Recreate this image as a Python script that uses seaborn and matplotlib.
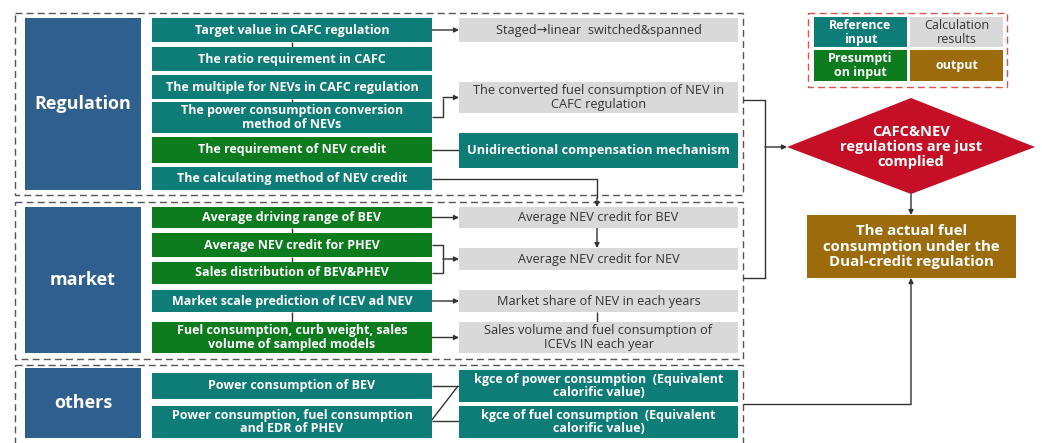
import matplotlib
matplotlib.use("Agg")
import matplotlib.pyplot as plt
from matplotlib.patches import Rectangle, Polygon
import seaborn as sns

# ---- chart content ----
group_names = ["Regulation", "market", "others"]

reg_inputs = ["Target value in CAFC regulation",
              "The ratio requirement in CAFC",
              "The multiple for NEVs in CAFC regulation",
              "The power consumption conversion\nmethod of NEVs",
              "The requirement of NEV credit",
              "The calculating method of NEV credit"]
reg_kinds = ["ref", "ref", "ref", "ref", "pre", "ref"]
reg_results = ["Staged\u2192linear  switched&spanned",
               "The converted fuel consumption of NEV in\nCAFC regulation",
               "Unidirectional compensation mechanism"]
reg_result_kinds = ["calc", "calc", "ref"]

mkt_inputs = ["Average driving range of BEV",
              "Average NEV credit for PHEV",
              "Sales distribution of BEV&PHEV",
              "Market scale prediction of ICEV ad NEV",
              "Fuel consumption, curb weight, sales\nvolume of sampled models"]
mkt_kinds = ["pre", "pre", "pre", "ref", "pre"]
mkt_results = ["Average NEV credit for BEV",
               "Average NEV credit for NEV",
               "Market share of NEV in each years",
               "Sales volume and fuel consumption of\nICEVs IN each year"]

oth_inputs = ["Power consumption of BEV",
              "Power consumption, fuel consumption\nand EDR of PHEV"]
oth_results = ["kgce of power consumption  (Equivalent\ncalorific value)",
               "kgce of fuel consumption  (Equivalent\ncalorific value)"]

decision_text = "CAFC&NEV\nregulations are just\ncomplied"
output_text = "The actual fuel\nconsumption under the\nDual-credit regulation"

legend_labels = ["Reference\ninput", "Calculation\nresults", "Presumpti\non input", "output"]
legend_kinds = ["ref", "calc", "pre", "out"]

# ---- layout (pixel coordinates, y downward) ----
reg_in_y = [(18, 42), (47, 71), (75, 99), (102, 133), (137, 163), (167, 190)]
reg_res_y = [(18, 42), (82, 113), (133, 168)]
mkt_in_y = [(207, 228), (233, 257), (262, 284), (290, 312), (322, 353)]
mkt_res_y = [(207, 228), (248, 270), (290, 312), (322, 353)]
oth_in_y = [(373, 399), (406, 438)]
oth_res_y = [(370, 402), (406, 438)]
group_y = [(18, 190), (207, 353), (368, 438)]
frame_y = [(13, 195), (202, 359), (365, 450)]
IN_X = (152, 432)
RES_X = (459, 738)
GRP_X = (25, 141)

colors = {"ref": "#0E7D78", "pre": "#0C7C1E", "calc": "#D9D9D9",
          "out": "#9C6B0C", "group": "#2F5F8F", "diamond": "#C50F26"}
text_colors = {"ref": "white", "pre": "white", "calc": "#333333",
               "out": "white", "group": "white"}

sns.set_theme(style="white")
plt.rcParams["font.family"] = ["Open Sans", "DejaVu Sans"]

fig = plt.figure(figsize=(10.42, 4.43), dpi=100)
ax = fig.add_axes([0, 0, 1, 1])
ax.set_xlim(0, 1042)
ax.set_ylim(443, 0)
ax.axis("off")

LINE = "#333333"


def box(x, y, kind, text, size=9.0):
    ax.add_patch(Rectangle((x[0], y[0]), x[1] - x[0], y[1] - y[0],
                           facecolor=colors[kind], edgecolor="none", zorder=2))
    weight = "normal" if kind == "calc" else "bold"
    ax.text((x[0] + x[1]) / 2, (y[0] + y[1]) / 2, text, ha="center", va="center",
            color=text_colors[kind], fontsize=size, fontweight=weight,
            linespacing=1.1, zorder=3)


def mid(y):
    return (y[0] + y[1]) / 2


def line(xs, ys):
    ax.plot(xs, ys, color=LINE, lw=1.0, zorder=1, solid_capstyle="butt")


def arrow(x0, y0, x1, y1):
    ax.annotate("", xy=(x1, y1), xytext=(x0, y0),
                arrowprops=dict(arrowstyle="-|>", color=LINE, lw=1.0,
                                mutation_scale=7, shrinkA=0, shrinkB=0),
                zorder=1)


# dashed frames
for fy in frame_y:
    ax.add_patch(Rectangle((15, fy[0]), 743 - 15, fy[1] - fy[0], fill=False,
                           edgecolor="#555555", lw=1.0, linestyle=(0, (5, 3)),
                           zorder=1, clip_on=False))

# group boxes
for name, gy in zip(group_names, group_y):
    box(GRP_X, gy, "group", name, size=13)

# regulation
for t, k, y in zip(reg_inputs, reg_kinds, reg_in_y):
    box(IN_X, y, k, t)
for t, k, y in zip(reg_results, reg_result_kinds, reg_res_y):
    box(RES_X, y, k, t, size=9.2)

# market
for t, k, y in zip(mkt_inputs, mkt_kinds, mkt_in_y):
    box(IN_X, y, k, t)
for t, y in zip(mkt_results, mkt_res_y):
    box(RES_X, y, "calc", t, size=9.2)

# others
for t, y in zip(oth_inputs, oth_in_y):
    box(IN_X, y, "ref", t)
for t, y in zip(oth_results, oth_res_y):
    box(RES_X, y, "ref", t)

# small joining ticks between stacked inputs
cx_in = 292
cx_res = 597
line([cx_in, cx_in], [reg_in_y[0][1], reg_in_y[1][0]])
line([cx_in, cx_in], [reg_in_y[2][1], reg_in_y[3][0]])
line([cx_in, cx_in], [mkt_in_y[0][1], mkt_in_y[1][0]])
line([cx_in, cx_in], [mkt_in_y[1][1], mkt_in_y[2][0]])
line([cx_in, cx_in], [mkt_in_y[3][1], mkt_in_y[4][0]])
line([cx_res, cx_res], [mkt_res_y[2][1], mkt_res_y[3][0]])

# regulation connectors
arrow(IN_X[1], mid(reg_in_y[0]), RES_X[0], mid(reg_res_y[0]))
line([IN_X[1], 443, 443], [117, 117, mid(reg_res_y[1])])
arrow(443, mid(reg_res_y[1]), RES_X[0], mid(reg_res_y[1]))
line([IN_X[1], RES_X[0]], [150, 150])
line([IN_X[1], cx_res, cx_res], [179, 179, 198])
arrow(cx_res, 198, cx_res, mkt_res_y[0][0])

# market connectors
arrow(IN_X[1], mid(mkt_in_y[0]), RES_X[0], mid(mkt_res_y[0]))
line([IN_X[1], 443, 443, IN_X[1]], [245, 245, 273, 273])
arrow(443, mid(mkt_res_y[1]), RES_X[0], mid(mkt_res_y[1]))
arrow(cx_res, mkt_res_y[0][1], cx_res, mkt_res_y[1][0])
arrow(IN_X[1], mid(mkt_in_y[3]), RES_X[0], mid(mkt_res_y[2]))
arrow(IN_X[1], mid(mkt_in_y[4]), RES_X[0], mid(mkt_res_y[3]))

# others connectors (crossed)
line([IN_X[1], RES_X[0]], [386, 386])
line([IN_X[1], RES_X[0]], [421, 421])
line([431, 458], [421, 386])

# right side: merge into decision
line([743, 765, 765, 743], [100, 100, 278, 278])
arrow(765, 147, 787, 147)

ax.add_patch(Polygon([(787, 147), (911, 98), (1035, 147), (911, 194)],
                     closed=True, facecolor=colors["diamond"], edgecolor="none",
                     zorder=2))
ax.text(911, 147, decision_text, ha="center", va="center", color="white",
        fontsize=10.5, fontweight="bold", linespacing=1.1, zorder=3)

arrow(911, 194, 911, 215)
box((807, 1016), (215, 278), "out", output_text, size=10.8)

line([743, 911], [404, 404])
arrow(911, 404, 911, 278)

# legend
ax.add_patch(Rectangle((808, 13), 1007 - 808, 87 - 13, fill=False,
                       edgecolor="#D9534F", lw=1.0, linestyle=(0, (5, 3)), zorder=1))
leg_x = [(814, 907), (910, 1003), (814, 907), (910, 1003)]
leg_y = [(17, 47), (17, 47), (50, 81), (50, 81)]
for t, k, x, y in zip(legend_labels, legend_kinds, leg_x, leg_y):
    box(x, y, k, t, size=9.0)

fig.savefig("out.png", dpi=100)
